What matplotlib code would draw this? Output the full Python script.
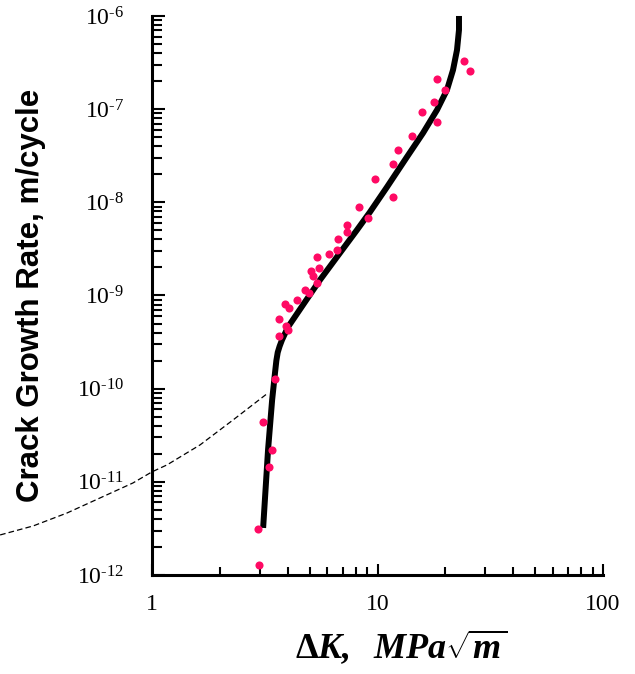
import matplotlib
matplotlib.use("Agg")
import matplotlib.pyplot as plt
import numpy as np
from matplotlib.ticker import LogLocator, NullFormatter

plt.rcParams['mathtext.fontset'] = 'custom'
plt.rcParams['mathtext.rm'] = 'Liberation Serif'
plt.rcParams['mathtext.it'] = 'Liberation Serif:italic'
plt.rcParams['mathtext.bf'] = 'Liberation Serif:bold'
plt.rcParams['mathtext.bfit'] = 'Liberation Serif:italic:bold'
plt.rcParams['font.family'] = 'Liberation Serif'

# measured data points (Delta K, da/dN)
dk_data = [2.98, 2.95, 3.30, 3.41, 3.11, 3.51, 3.66, 3.66, 3.93, 4.01,
           3.89, 4.05, 4.40, 4.77, 4.97, 5.07, 5.18, 5.39, 5.50, 5.39,
           6.10, 6.61, 6.68, 7.32, 7.32, 8.28, 9.07, 9.75, 11.72, 11.72,
           12.33, 14.22, 15.75, 18.36, 17.81, 19.92, 18.36, 24.19, 25.71]
dadn_data = [1.28e-12, 3.12e-12, 1.44e-11, 2.20e-11, 4.39e-11, 1.27e-10, 3.67e-10, 5.6e-10, 4.71e-10, 4.27e-10,
             8.1e-10, 7.35e-10, 8.95e-10, 1.15e-9, 1.06e-9, 1.83e-9, 1.62e-9, 1.36e-9, 1.97e-9, 2.59e-9,
             2.79e-9, 3.08e-9, 4.04e-9, 4.81e-9, 5.71e-9, 8.9e-9, 6.79e-9, 1.78e-8, 1.14e-8, 2.58e-8,
             3.65e-8, 5.15e-8, 9.33e-8, 7.28e-8, 1.19e-7, 1.61e-7, 2.11e-7, 3.29e-7, 2.57e-7]

# fitted curve
dk_fit = [3.11, 3.27, 3.41, 3.51, 3.56, 3.61, 3.68, 3.77, 4.01, 4.67, 5.56, 6.61, 8.11, 9.26,
          11.02, 13.51, 15.92, 18.36, 20.33, 21.62, 22.52, 22.98, 22.98]
dadn_fit = [3.2e-12, 2.2e-11, 7.6e-11, 1.47e-10, 2.0e-10, 2.45e-10, 2.85e-10, 3.33e-10, 4.59e-10,
            7.91e-10, 1.47e-9, 2.59e-9, 5.05e-9, 7.87e-9, 1.46e-8, 3.07e-8, 5.55e-8,
            9.8e-8, 1.61e-7, 2.63e-7, 4.32e-7, 7.08e-7, 1.0e-6]

# dashed curve
dk_dash = [0.212, 0.297, 0.420, 0.588, 0.823, 1.0, 1.166, 1.633, 2.287, 3.27]
dadn_dash = [2.69e-12, 3.36e-12, 4.63e-12, 6.71e-12, 9.72e-12, 1.28e-11, 1.52e-11, 2.49e-11, 4.61e-11, 8.99e-11]

fig = plt.figure(figsize=(6.35, 6.74), dpi=100)
ax = fig.add_axes([0.2394, 0.1469, 0.7102, 0.8294])

ax.plot(dk_dash, dadn_dash, color='black', lw=0.9, dashes=(4.5, 2.5), clip_on=False)
ax.plot(dk_fit, dadn_fit, color='black', lw=4.3, solid_capstyle='butt', solid_joinstyle='round', clip_on=False)
ax.scatter(dk_data, dadn_data, s=34, color='#ff0a64', zorder=3, clip_on=False, linewidths=0)

ax.set_xscale('log')
ax.set_yscale('log')
ax.set_xlim(1, 100)
ax.set_ylim(1e-12, 1e-6)

ax.spines['top'].set_visible(False)
ax.spines['right'].set_visible(False)
ax.spines['left'].set_linewidth(2.2)
ax.spines['bottom'].set_linewidth(2.2)

ax.xaxis.set_major_locator(LogLocator(base=10, numticks=10))
ax.xaxis.set_minor_locator(LogLocator(base=10, subs=range(2, 10), numticks=10))
ax.yaxis.set_major_locator(LogLocator(base=10, numticks=10))
ax.yaxis.set_minor_locator(LogLocator(base=10, subs=range(2, 10), numticks=10))
# exponent labels with a plain hyphen like the original
ax.yaxis.set_major_formatter(plt.FuncFormatter(
    lambda v, p: '$\\mathregular{10^{\u2010%d}}$' % round(-np.log10(v))))
ax.xaxis.set_major_formatter(plt.FuncFormatter(lambda v, p: '%g' % v))
ax.xaxis.set_minor_formatter(NullFormatter())
ax.yaxis.set_minor_formatter(NullFormatter())

ax.tick_params(axis='x', which='major', direction='in', length=8, width=1.5, labelsize=17, pad=14)
ax.tick_params(axis='x', which='minor', direction='in', length=5.8, width=1.5)
ax.tick_params(axis='y', which='major', direction='in', length=9.5, width=1.5, labelsize=17, pad=20)
ax.tick_params(axis='y', which='minor', direction='in', length=7.2, width=1.5)

ax.set_ylabel('Crack Growth Rate, m/cycle', fontsize=22.5, fontweight='bold',
              family='Liberation Sans')
ax.yaxis.set_label_coords(-0.235, 0.5)
ax.set_xlabel(r'$\mathbf{\Delta}\mathbfit{K,}\ \ \mathbfit{MPa}\sqrt{\mathbfit{m}}$', fontsize=26)
ax.xaxis.set_label_coords(0.552, -0.093)

fig.savefig('out.png', dpi=100)
